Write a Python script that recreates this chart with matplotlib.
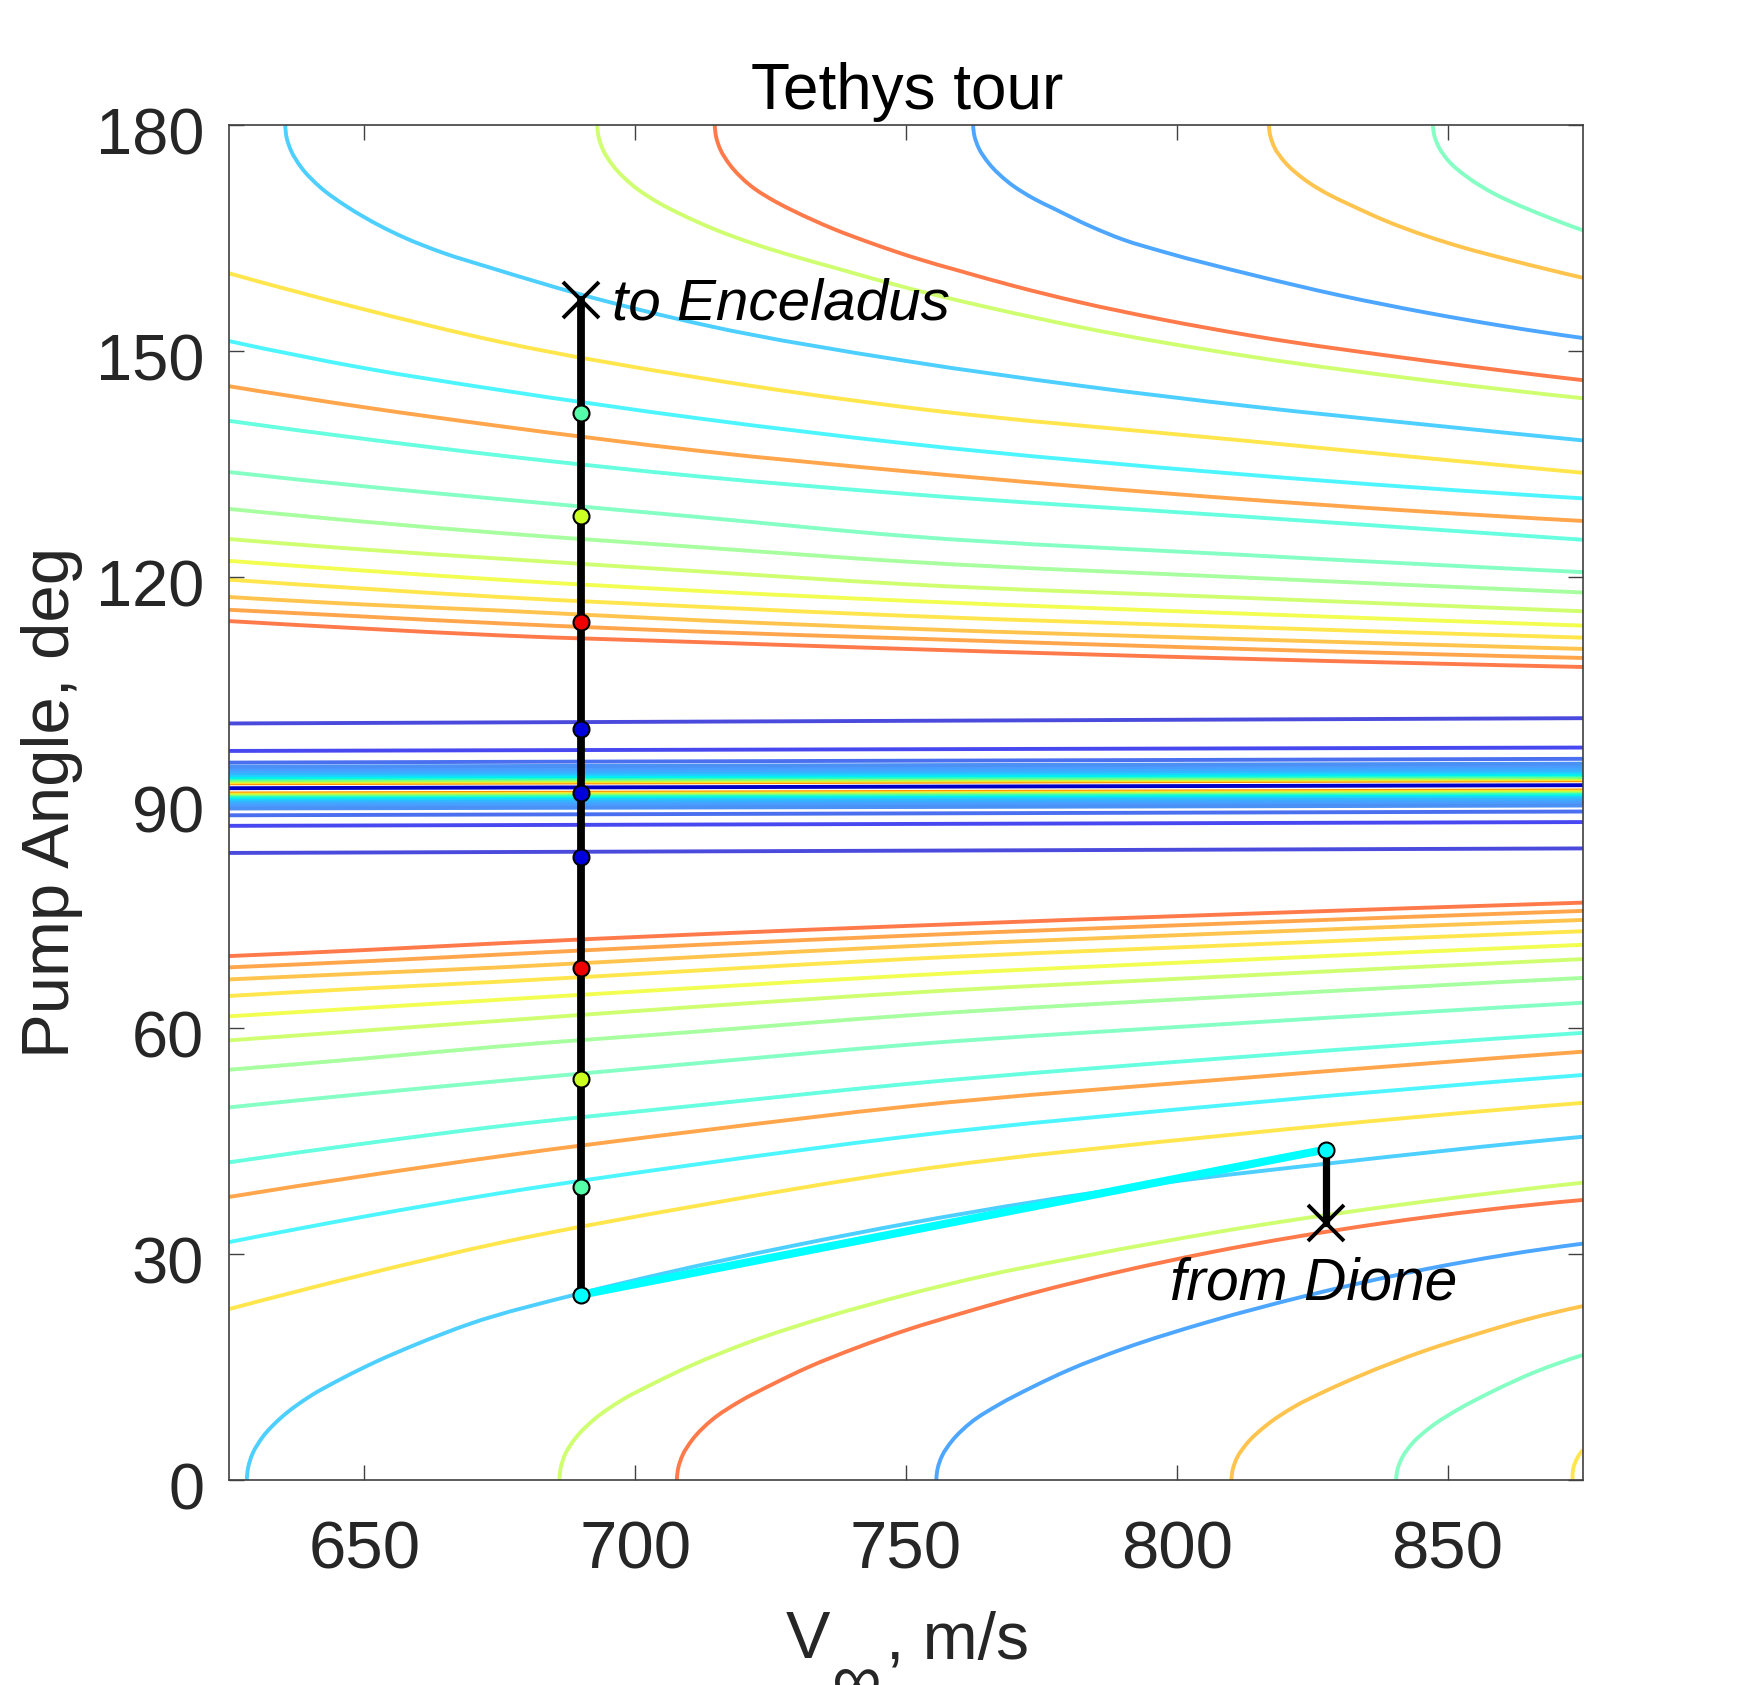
import matplotlib
matplotlib.use("Agg")
import matplotlib.pyplot as plt
import numpy as np
from matplotlib.patches import PathPatch
from matplotlib.path import Path
from matplotlib.transforms import ScaledTranslation

plt.rcParams["font.family"] = ["Liberation Sans", "DejaVu Sans"]

# nearly straight contours, sampled on one V grid
flat_v = [625, 650, 675, 712, 750, 812, 875]
upper_flat = [
    [114.1, 113.1, 112.2, 111.3, 110.4, 109.1, 108.0],
    [115.6, 114.7, 113.8, 112.7, 111.8, 110.4, 109.2],
    [117.3, 116.3, 115.5, 114.2, 113.1, 111.7, 110.4],
    [119.6, 118.4, 117.3, 116.0, 114.8, 113.3, 111.9],
    [122.1, 120.8, 119.6, 118.1, 116.8, 115.1, 113.5],
    [125.0, 123.6, 122.4, 120.7, 119.0, 117.2, 115.4],
    [129.0, 127.3, 125.8, 123.9, 122.0, 119.9, 117.9],
    [133.9, 132.0, 130.3, 127.9, 125.4, 122.9, 120.6],
    [140.7, 138.3, 136.1, 133.3, 131.0, 128.0, 124.9],
    [145.3, 142.5, 140.0, 136.7, 134.0, 130.3, 127.4],
    [151.3, 147.7, 144.8, 141.0, 137.7, 133.6, 130.4],
    [160.3, 155.5, 151.2, 146.4, 142.5, 138.1, 133.8],
]
lower_flat = [
    [69.6, 70.4, 71.3, 72.5, 73.6, 75.2, 76.7],
    [68.1, 68.9, 69.8, 71.1, 72.3, 74.0, 75.6],
    [66.5, 67.3, 68.1, 69.5, 70.9, 72.7, 74.4],
    [64.3, 65.3, 66.2, 67.7, 69.2, 71.1, 72.9],
    [61.6, 62.7, 63.8, 65.4, 67.0, 69.1, 71.1],
    [58.4, 59.7, 61.0, 62.9, 64.7, 67.0, 69.2],
    [54.5, 56.0, 57.6, 59.6, 61.7, 64.3, 66.7],
    [49.5, 51.3, 53.0, 55.4, 57.8, 60.7, 63.4],
    [42.2, 44.7, 47.0, 49.8, 52.6, 56.2, 59.4],
    [37.6, 40.4, 43.0, 46.4, 49.6, 53.4, 56.9],
    [31.6, 35.0, 38.1, 42.0, 45.6, 50.0, 53.8],
    [22.7, 27.3, 31.5, 36.5, 41.0, 46.0, 50.1],
]
flat_colors = ["#FF7A4A", "#FFA64D", "#FFC44D", "#FFE64D", "#F2FF50", "#CFFF70",
               "#A8FFA0", "#85FFC4", "#66FFE0", "#FFA64D", "#4DF6FF", "#FFE64D"]

# curved contours that leave through the top
u13_v = [635.4, 635.65, 636.45, 638.3, 641.9, 646.9, 652.9, 657.2, 664.6, 673, 689.9, 713, 750.5, 781.8, 813.9,
         845.9, 875]
u13_p = [180, 178.3, 176.6, 174.4, 171.7, 169.1, 166.6, 165.1, 163.0, 161.1, 157.5, 153.4, 148.6, 145.4, 142.6,
         140.2, 138.1]
u14_v = [693, 693.25, 694.05, 695.9, 699.5, 704.5, 708, 714.8, 722, 729.6, 737, 750, 765, 781.8, 813.9, 845.9, 875]
u14_p = [180, 178.4, 176.7, 174.6, 172, 169.6, 168.3, 166.1, 164.2, 162.5, 161, 158.4, 155.8, 153.2, 149.2, 146.1,
         143.7]
u15_v = [714.7, 714.95, 715.75, 717.6, 721.2, 726.2, 729.2, 736.6, 744, 751.4, 760, 770, 781.8, 797, 813.9, 845.9,
         875]
u15_p = [180, 178.4, 176.7, 174.6, 172, 169.7, 168.6, 166.2, 164.2, 162.4, 160.6, 158.6, 156.5, 154.2, 152, 148.7,
         146.1]
u16_v = [762.4, 762.65, 763.45, 765.3, 768.9, 773.9, 777, 784.2, 790, 797.8, 813.9, 829.9, 845.9, 875]
u16_p = [180, 178.5, 176.9, 174.9, 172.4, 170.1, 169, 166.5, 164.8, 163.1, 160.1, 157.4, 155.1, 151.7]
u17_v = [817, 817.25, 818.05, 819.9, 823.5, 828.5, 831.4, 838.8, 845.9, 853, 861.9, 875]
u17_p = [180, 178.6, 177, 175.1, 172.8, 170.6, 169.6, 167.2, 165.3, 163.7, 162, 159.7]
u18_v = [847.3, 847.55, 848.35, 850.2, 853.8, 858.8, 861.7, 868, 875]
u18_p = [180, 178.6, 177.1, 175.2, 173, 170.8, 169.8, 167.9, 166]

# curved contours that leave through the bottom
l13_v = [628.3, 628.55, 629.35, 631.2, 634.8, 639.8, 645.9, 652.1, 659.5, 669.3, 689.9, 705, 729, 750.5, 797.8,
         829.9, 865, 875]
l13_p = [0, 1.7, 3.5, 5.7, 8.4, 11.05, 13.5, 15.7, 18, 20.7, 24.8, 27.4, 31.1, 34.1, 39.5, 42.2, 44.9, 45.6]
l14_v = [686, 686.25, 687.05, 688.9, 692.5, 697.5, 703.6, 710, 721, 735, 750, 765, 781.8, 813.9, 845.9, 875]
l14_p = [0, 1.6, 3.4, 5.5, 8.1, 10.6, 12.9, 15.1, 18.3, 21.6, 24.6, 27.2, 29.6, 33.7, 37, 39.5]
l15_v = [707.7, 707.95, 708.75, 710.6, 714.2, 719.2, 725.3, 732, 741, 750, 761, 773.8, 789, 805.9, 837.9, 875]
l15_p = [0, 1.6, 3.3, 5.4, 8, 10.4, 12.7, 15, 17.6, 19.9, 22.3, 24.9, 27.6, 30.2, 34.1, 37.2]
l16_v = [755.6, 755.85, 756.65, 758.5, 762.1, 767.1, 773.2, 780, 790, 805.8, 823.5, 845.9, 875]
l16_p = [0, 1.55, 3.2, 5.2, 7.7, 10, 12.3, 14.6, 17.4, 21, 24.4, 28, 31.4]
l17_v = [810.1, 810.35, 811.15, 813, 816.6, 821.6, 827.7, 834, 845.9, 855, 865, 875]
l17_p = [0, 1.45, 3, 4.9, 7.3, 9.7, 11.9, 13.9, 17.2, 19.3, 21.4, 23.1]
l18_v = [840.5, 840.75, 841.55, 843.4, 847, 852, 858.1, 866, 875]
l18_p = [0, 1.4, 2.9, 4.8, 7.1, 9.4, 11.7, 14.3, 16.6]
l19_v = [873.1, 873.2, 874, 875]
l19_p = [0, 1.5, 3, 4]

curve_colors = ["#4DCFFF", "#CFFF70", "#FF7A4A", "#4DA6FF", "#FFC44D", "#85FFC4", "#FFE64D"]

# blue lines and dense band around 90 deg: value at V=625 and at V=875
blue_left = [100.5, 96.85, 95.3, 88.3, 86.9, 83.3]
blue_right = [101.2, 97.3, 95.8, 88.8, 87.4, 83.9]
blue_colors = ["#4A4ADC", "#4848F0", "#4A70F0", "#4A70F0", "#4848F0", "#4A4ADC"]

band_up_left = [92.55, 92.7, 92.85, 93.0, 93.2, 93.4, 93.65, 93.9, 94.15, 94.45, 94.76]
band_low_left = [91.2, 91.05, 90.9, 90.75, 90.6, 90.4, 90.2, 90.0, 89.75, 89.5, 89.2]
band_colors = ["#FF9000", "#FFE030", "#C0FF40", "#80FF80", "#30FFC0", "#00F0F0",
               "#20D0FF", "#30B8FF", "#40A8FF", "#4A9CFF", "#4A90F5"]
center_left, center_right = 91.9, 92.3

# trajectory
tour_v = 689.95
tour_p = [141.7, 128.1, 114.0, 99.7, 91.3, 82.7, 68.0, 53.3, 38.9, 24.6]
tour_colors = ["#55FFAA", "#CCFF22", "#EE0000", "#0000DD", "#0000DD", "#0000DD",
               "#EE0000", "#CCFF22", "#55FFAA", "#00FFFF"]
end_p = 156.7
dione_v, dione_p, dione_x_p = 827.5, 43.9, 34.2

LW = 2.8


def draw_contour(ax, v, p, color):
    # bezier segments through the read points so the contour has no corners
    pts = np.column_stack([v, p]).astype(float)
    scaled = pts * [5.416, 7.528]
    d = np.linalg.norm(np.diff(scaled, axis=0), axis=1)
    slopes = np.diff(pts, axis=0) / d[:, None]
    m = np.zeros_like(pts)
    for i in range(1, len(pts) - 1):
        m[i] = (slopes[i] * d[i - 1] + slopes[i - 1] * d[i]) / (d[i] + d[i - 1])
    m[0] = 2 * slopes[0] - m[1]
    m[-1] = 2 * slopes[-1] - m[-2]
    verts = [pts[0]]
    codes = [Path.MOVETO]
    for i in range(len(pts) - 1):
        verts += [pts[i] + m[i] * d[i] / 3, pts[i + 1] - m[i + 1] * d[i] / 3, pts[i + 1]]
        codes += [Path.CURVE4] * 3
    ax.add_patch(PathPatch(Path(verts, codes), fill=False, edgecolor=color, lw=LW, capstyle="butt"))


fig = plt.figure(figsize=(17.5, 16.85), dpi=100, facecolor="white")
ax = fig.add_axes([229 / 1750, 1 - 1480 / 1685, 1354 / 1750, 1355 / 1685])

for vals, c in zip(upper_flat, flat_colors):
    draw_contour(ax, flat_v, vals, c)
for vals, c in zip(lower_flat, flat_colors):
    draw_contour(ax, flat_v, vals, c)

upper_curves = [(u13_v, u13_p), (u14_v, u14_p), (u15_v, u15_p), (u16_v, u16_p), (u17_v, u17_p), (u18_v, u18_p)]
lower_curves = [(l13_v, l13_p), (l14_v, l14_p), (l15_v, l15_p), (l16_v, l16_p), (l17_v, l17_p), (l18_v, l18_p),
                (l19_v, l19_p)]
for (v, p), c in zip(upper_curves, curve_colors):
    draw_contour(ax, v, p, c)
for (v, p), c in zip(lower_curves, curve_colors):
    draw_contour(ax, v, p, c)

for left, right, c in zip(blue_left, blue_right, blue_colors):
    ax.plot([625, 875], [left, right], color=c, lw=LW)
for left, c in zip(band_up_left, band_colors):
    ax.plot([625, 875], [left, left + 0.4], color=c, lw=LW)
for left, c in zip(band_low_left, band_colors):
    ax.plot([625, 875], [left, left + 0.4], color=c, lw=LW)
ax.plot([625, 875], [center_left, center_right], color="#0000C8", lw=LW)

ax.plot([tour_v, dione_v], [tour_p[-1], dione_p], color="#00FFFF", lw=5.8)
ax.plot([tour_v, tour_v], [tour_p[-1], end_p], color="black", lw=5.6)
ax.plot([dione_v, dione_v], [dione_p, dione_x_p], color="black", lw=5.2)
ax.plot([tour_v, dione_v], [end_p, dione_x_p], ls="none", marker="x", color="black", ms=26, mew=2.8)
for p, c in zip(tour_p, tour_colors):
    ax.plot(tour_v, p, marker="o", ms=11.5, mfc=c, mec="black", mew=1.5)
ax.plot(dione_v, dione_p, marker="o", ms=11.5, mfc="#00FFFF", mec="black", mew=1.5)

ax.text(695.7, 154.1, "to Enceladus", fontsize=42, style="italic", va="baseline", color="black")
ax.text(798.7, 24.0, "from Dione", fontsize=42.3, style="italic", va="baseline", color="black")

ax.set_xlim(625, 875)
ax.set_ylim(0, 180)
ax.set_xticks([650, 700, 750, 800, 850])
ax.set_yticks([0, 30, 60, 90, 120, 150, 180])
ax.tick_params(direction="in", length=11, width=1.0, color="#404040", labelcolor="#262626",
               top=True, right=True)
ax.tick_params(axis="x", pad=29, labelsize=48.3)
ax.tick_params(axis="y", pad=18, labelsize=46.8)
for side in ax.spines.values():
    side.set_linewidth(1.2)
    side.set_color("#404040")

# MATLAB sets the y tick digits a little below the tick
shift = ScaledTranslation(0, -6 / 100, fig.dpi_scale_trans)
for lab in ax.get_yticklabels():
    lab.set_transform(lab.get_transform() + shift)

fig.text(907 / 1750, 1 - 109 / 1685, "Tethys tour", fontsize=46, ha="center", va="baseline", color="black")
fig.text(83 / 1750, 1 - 802 / 1685, "Pump Angle, deg", fontsize=48.3, rotation=90, ha="right", va="center",
         color="#262626")

# x label pieces, the subscript runs off the bottom edge as in the source figure
fig.text(786 / 1750, 1 - 1658 / 1685, "V", fontsize=48, va="baseline", color="#262626")
fig.text(832 / 1750, 1 - 1702 / 1685, "∞", fontsize=50, va="baseline", color="#262626")
fig.text(886 / 1750, 1 - 1658 / 1685, ", m/s", fontsize=47.5, va="baseline", color="#262626")

fig.savefig("out.png", dpi=100)
